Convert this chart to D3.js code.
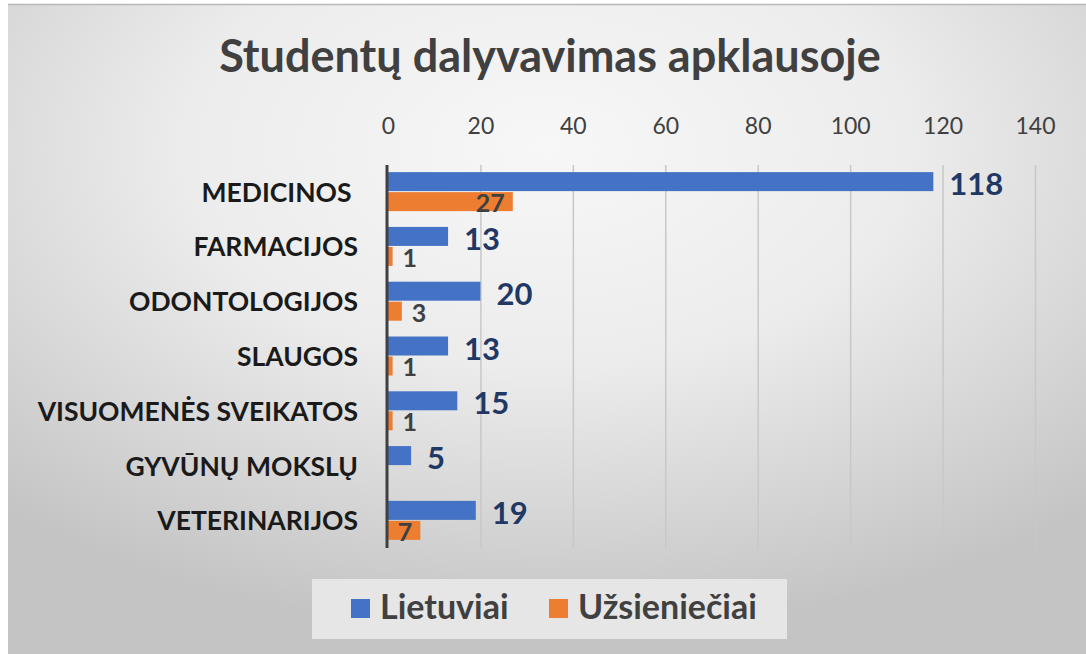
<!DOCTYPE html>
<html>
<head>
<meta charset="utf-8">
<script src="https://cdn.jsdelivr.net/npm/d3@7"></script>
<style>
  body { margin: 0; background: #fff; }
  svg { display: block; font-family: Lato, "Open Sans", sans-serif; }
  text { white-space: pre; }
</style>
</head>
<body>
<svg id="chart" width="1086" height="654"></svg>
<script>
// data
const categories = ['MEDICINOS ', 'FARMACIJOS', 'ODONTOLOGIJOS', 'SLAUGOS',
  'VISUOMENĖS SVEIKATOS', 'GYVŪNŲ MOKSLŲ', 'VETERINARIJOS'];
const seriesNames = ['Lietuviai', 'Užsieniečiai'];
const lietuviai = [118, 13, 20, 13, 15, 5, 19];
const uzsienieciai = [27, 1, 3, 1, 1, 0, 7];
const xTicks = [0, 20, 40, 60, 80, 100, 120, 140];

const colors = { 'Lietuviai': '#4472c4', 'Užsieniečiai': '#ed7d31' };
const labelColors = { 'Lietuviai': '#1f3864', 'Užsieniečiai': '#404040' };

const svg = d3.select('#chart');

// background with soft radial shading
const defs = svg.append('defs');
const grad = defs.append('radialGradient')
  .attr('id', 'bg')
  .attr('cx', '50%').attr('cy', '22%').attr('r', '75%')
  .attr('gradientUnits', 'objectBoundingBox');
grad.append('stop').attr('offset', '0%').attr('stop-color', '#f7f7f7');
grad.append('stop').attr('offset', '45%').attr('stop-color', '#ececec');
grad.append('stop').attr('offset', '100%').attr('stop-color', '#c4c4c4');

svg.append('rect')
  .attr('x', 8).attr('y', 4)
  .attr('width', 1078).attr('height', 650)
  .attr('fill', 'url(#bg)');
svg.append('line')
  .attr('x1', 8).attr('x2', 1086).attr('y1', 4.5).attr('y2', 4.5)
  .attr('stroke', '#b8b8b8').attr('stroke-width', 1.5);

svg.append('text')
  .attr('x', 550).attr('y', 72)
  .attr('text-anchor', 'middle')
  .attr('font-size', 45).attr('font-weight', 700)
  .attr('fill', '#404040')
  .text('Studentų dalyvavimas apklausoje');

const x = d3.scaleLinear().domain([0, 140]).range([388, 1035]);
const y = d3.scaleBand().domain(categories).range([165, 548])
  .paddingInner(0.27).paddingOuter(0.13);
const ySub = d3.scaleBand().domain(seriesNames).range([0, y.bandwidth()]);

// gridlines
svg.append('g')
  .attr('transform', 'translate(0,548)')
  .call(d3.axisTop(x).tickValues(xTicks.slice(1)).tickSize(383).tickFormat(''))
  .call(g => g.select('.domain').remove())
  .call(g => g.selectAll('line').attr('stroke', '#c8c8c8').attr('stroke-width', 1.5));

// top tick labels
svg.append('g')
  .attr('transform', 'translate(0,134)')
  .call(d3.axisTop(x).tickValues(xTicks).tickSize(0).tickPadding(0))
  .call(g => g.select('.domain').remove())
  .call(g => g.selectAll('text')
    .attr('font-family', 'Lato, sans-serif')
    .attr('font-size', 23).attr('fill', '#404040').attr('dy', 0));

// category labels
svg.append('g')
  .selectAll('text')
  .data(categories)
  .join('text')
  .attr('x', 358)
  .attr('y', d => y(d) + y.bandwidth() / 2)
  .attr('dy', '0.36em')
  .attr('text-anchor', 'end')
  .attr('font-size', 26.5).attr('font-weight', 700)
  .attr('fill', '#1a1a1a')
  .text(d => d);

const rows = categories.map((c, i) => ({
  cat: c,
  vals: [
    { s: 'Lietuviai', v: lietuviai[i] },
    { s: 'Užsieniečiai', v: uzsienieciai[i] }
  ]
}));

const groups = svg.append('g')
  .selectAll('g')
  .data(rows)
  .join('g')
  .attr('transform', d => `translate(0,${y(d.cat)})`);

groups.selectAll('rect')
  .data(d => d.vals)
  .join('rect')
  .attr('x', x(0))
  .attr('y', d => ySub(d.s))
  .attr('width', d => x(d.v) - x(0))
  .attr('height', ySub.bandwidth() - 1)
  .attr('fill', d => colors[d.s]);

// value labels (zero values get none)
groups.selectAll('text')
  .data(d => d.vals.filter(v => v.v > 0))
  .join('text')
  .attr('x', d => d.s === 'Lietuviai' ? x(d.v) + 16 : (d.v > 5 ? x(d.v) - 8 : x(d.v) + 10))
  .attr('y', d => ySub(d.s) + ySub.bandwidth() / 2 + (d.s === 'Lietuviai' ? 2 : 1))
  .attr('dy', '0.36em')
  .attr('text-anchor', d => d.s === 'Užsieniečiai' && d.v > 5 ? 'end' : 'start')
  .attr('font-size', d => d.s === 'Lietuviai' ? 31 : 25)
  .attr('font-weight', 700)
  .attr('fill', d => labelColors[d.s])
  .text(d => d.v);

// axis line at zero
svg.append('line')
  .attr('x1', x(0) - 1).attr('x2', x(0) - 1)
  .attr('y1', 165).attr('y2', 548)
  .attr('stroke', '#404040').attr('stroke-width', 3);

// legend
const legend = svg.append('g');
legend.append('rect')
  .attr('x', 312).attr('y', 579).attr('width', 475).attr('height', 60)
  .attr('fill', '#e6e6e6');
const legendX = { 'Lietuviai': 351, 'Užsieniečiai': 549 };
const item = legend.selectAll('g')
  .data(seriesNames)
  .join('g')
  .attr('transform', d => `translate(${legendX[d]},599)`);
item.append('rect')
  .attr('width', 19).attr('height', 19)
  .attr('fill', d => colors[d]);
item.append('text')
  .attr('x', 29).attr('y', 20)
  .attr('font-size', 34).attr('font-weight', 700)
  .attr('fill', '#404040')
  .text(d => d);
</script>
</body>
</html>
